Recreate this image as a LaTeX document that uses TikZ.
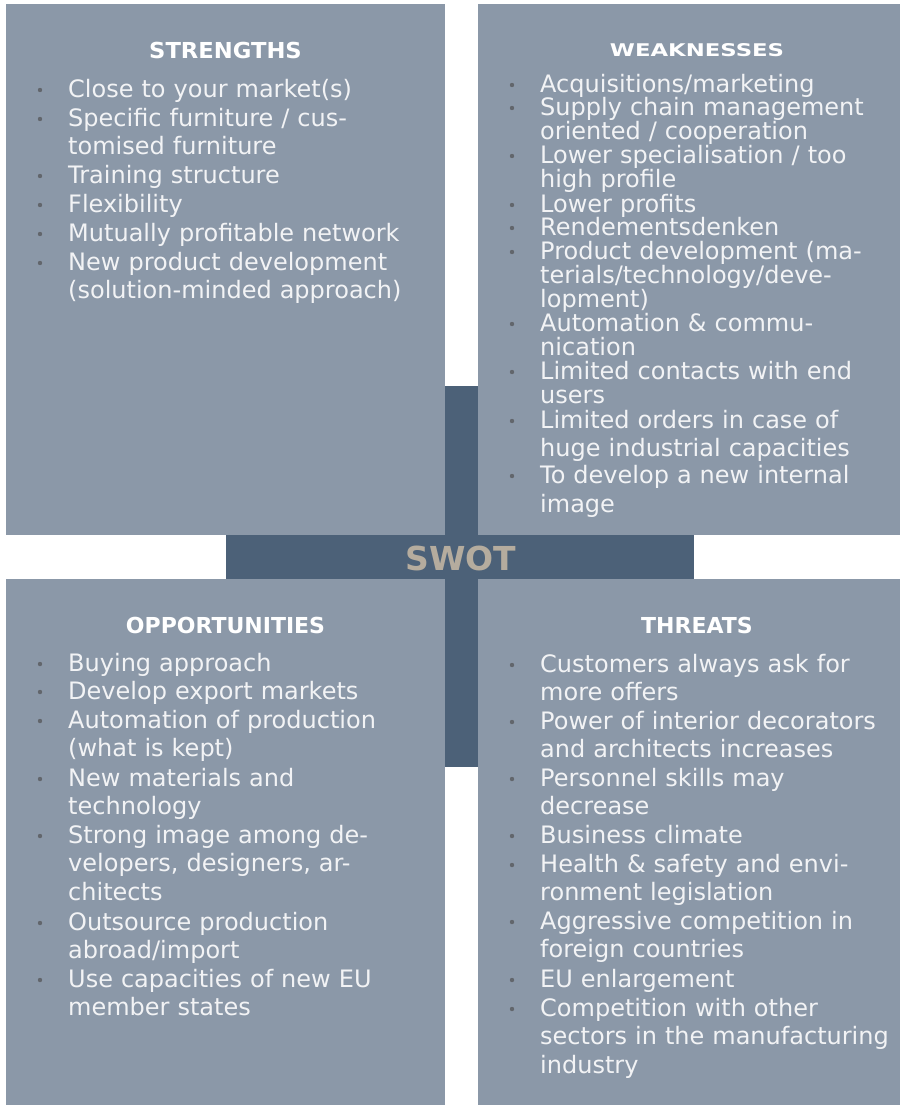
\documentclass[tikz,border=0pt]{standalone}
\usepackage{fontspec}
\usepackage{graphicx}
\setmainfont{DejaVu Sans}
\usetikzlibrary{positioning}

\definecolor{boxgray}{RGB}{139,152,168}
\definecolor{bardark}{RGB}{76,97,120}
\definecolor{swotbeige}{RGB}{181,172,158}
\definecolor{txtwhite}{RGB}{242,243,245}
\definecolor{dotgray}{RGB}{98,102,108}

\begin{document}
\begin{tikzpicture}[x=1pt,y=-1pt,
    dot/.style={fill=dotgray,circle,minimum size=4.4pt,inner sep=0pt},
    item/.style={anchor=base west,inner sep=0pt,text width=380pt,align=left,text=txtwhite,font=\fontsize{24}{28.8}\selectfont},
    itemtight/.style={item,font=\fontsize{24}{24}\selectfont},
    head/.style={anchor=base,inner sep=0pt,text=white,font=\bfseries\fontsize{22}{24}\selectfont}]
                  \useasboundingbox (0,0) rectangle (903,1106);
                  % the four quarters and the cross
                  \fill[boxgray] (6,4) rectangle (445,535);
                  \fill[boxgray] (478,4) rectangle (900,535);
                  \fill[boxgray] (6,579) rectangle (445,1105);
                  \fill[boxgray] (478,579) rectangle (900,1105);
                  \fill[bardark] (445,386) rectangle (478,767);
                  \fill[bardark] (226,535) rectangle (694,579);
                  \node[anchor=base,inner sep=0pt,text=swotbeige,font=\bfseries\fontsize{33}{36}\selectfont] (swot) at (461,570) {SWOT};

                  % strengths
                  \node[head] (hs) at (225.5,58) {\scalebox{1.03}[1]{STRENGTHS}};
                  \node[dot] (s1) at (40,90) {};  \node[item] (s1t) at (68,97) {Close to your market(s)};
                  \node[dot] (s2) at (40,119) {}; \node[item] (s2t) at (68,126) {Specific furniture / cus-\\tomised furniture};
                  \node[dot] (s3) at (40,176) {}; \node[item] (s3t) at (68,183) {Training structure};
                  \node[dot] (s4) at (40,205) {}; \node[item] (s4t) at (68,212) {Flexibility};
                  \node[dot] (s5) at (40,234) {}; \node[item] (s5t) at (68,241) {Mutually profitable network};
                  \node[dot] (s6) at (40,263) {}; \node[item] (s6t) at (68,270) {New product development\\(solution-minded approach)};

                  % weaknesses
                  \node[head,font=\bfseries\fontsize{17.5}{20}\selectfont] (hw) at (697,56) {\scalebox{1.3}[1]{WEAKNESSES}};
                  \node[dot] (w1) at (512,85) {};  \node[itemtight] (w1t) at (540,92) {Acquisitions/marketing};
                  \node[dot] (w2) at (512,108) {}; \node[itemtight] (w2t) at (540,115) {Supply chain management\\oriented / cooperation};
                  \node[dot] (w3) at (512,156) {}; \node[itemtight] (w3t) at (540,163) {Lower specialisation / too\\high profile};
                  \node[dot] (w4) at (512,205) {}; \node[itemtight] (w4t) at (540,212) {Lower profits};
                  \node[dot] (w5) at (512,228) {}; \node[itemtight] (w5t) at (540,235) {Rendementsdenken};
                  \node[dot] (w6) at (512,252) {}; \node[itemtight] (w6t) at (540,259) {Product development (ma-\\terials/technology/deve-\\lopment)};
                  \node[dot] (w7) at (512,324) {}; \node[itemtight] (w7t) at (540,331) {Automation \& commu-\\nication};
                  \node[dot] (w8) at (512,372) {}; \node[itemtight] (w8t) at (540,379) {Limited contacts with end\\users};
                  \node[dot] (w9) at (512,421) {}; \node[itemtight] (w9t) at (540,428) {Limited orders in case of\\[4pt]huge industrial capacities};
                  \node[dot] (w10) at (512,476) {}; \node[itemtight] (w10t) at (540,483) {To develop a new internal\\[5pt]image};

                  % opportunities
                  \node[head] (ho) at (225.5,633) {OPPORTUNITIES};
                  \node[dot] (o1) at (40,664) {}; \node[item] (o1t) at (68,671) {Buying approach};
                  \node[dot] (o2) at (40,692) {}; \node[item] (o2t) at (68,699) {Develop export markets};
                  \node[dot] (o3) at (40,721) {}; \node[item] (o3t) at (68,728) {Automation of production\\(what is kept)};
                  \node[dot] (o4) at (40,779) {}; \node[item] (o4t) at (68,786) {New materials and\\technology};
                  \node[dot] (o5) at (40,836) {}; \node[item] (o5t) at (68,843) {Strong image among de-\\velopers, designers, ar-\\chitects};
                  \node[dot] (o6) at (40,923) {}; \node[item] (o6t) at (68,930) {Outsource production\\abroad/import};
                  \node[dot] (o7) at (40,980) {}; \node[item] (o7t) at (68,987) {Use capacities of new EU\\member states};

                  % threats
                  \node[head] (ht) at (697,633) {THREATS};
                  \node[dot] (t1) at (512,665) {}; \node[item] (t1t) at (540,672) {Customers always ask for\\more offers};
                  \node[dot] (t2) at (512,722) {}; \node[item] (t2t) at (540,729) {Power of interior decorators\\and architects increases};
                  \node[dot] (t3) at (512,779) {}; \node[item] (t3t) at (540,786) {Personnel skills may\\decrease};
                  \node[dot] (t4) at (512,836) {}; \node[item] (t4t) at (540,843) {Business climate};
                  \node[dot] (t5) at (512,865) {}; \node[item] (t5t) at (540,872) {Health \& safety and envi-\\ronment legislation};
                  \node[dot] (t6) at (512,922) {}; \node[item] (t6t) at (540,929) {Aggressive competition in\\foreign countries};
                  \node[dot] (t7) at (512,980) {}; \node[item] (t7t) at (540,987) {EU enlargement};
                  \node[dot] (t8) at (512,1009) {}; \node[item] (t8t) at (540,1016) {Competition with other\\sectors in the manufacturing\\industry};
              \end{tikzpicture}
\end{document}
